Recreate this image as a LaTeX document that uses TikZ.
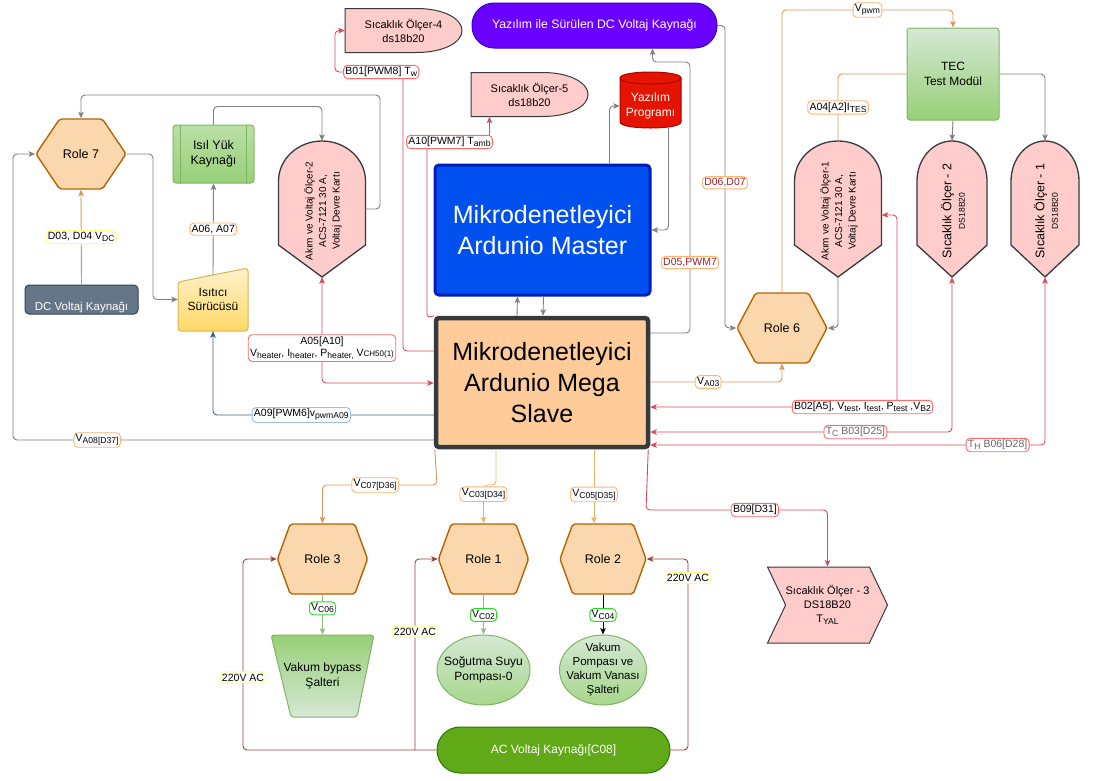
\documentclass[tikz,border=0pt]{standalone}
\usepackage{fontspec}
\setmainfont{Liberation Sans}
\usepackage{tikz}
\usetikzlibrary{arrows.meta, shapes.symbols, shapes.geometric}

\definecolor{relayfill}{HTML}{FAD7AC}
\definecolor{relayline}{HTML}{B46504}
\definecolor{sensfill}{HTML}{FFCCCC}
\definecolor{darkline}{HTML}{36393D}
\definecolor{wiregray}{HTML}{808080}
\definecolor{wirered}{HTML}{D9495A}
\definecolor{wireorange}{HTML}{D9955A}
\definecolor{wireamber}{HTML}{EBB55F}
\definecolor{wirebrown}{HTML}{9B3F3F}
\definecolor{wireblue}{HTML}{3D5F7E}
\definecolor{wiregreen}{HTML}{8CC276}
\definecolor{tagred}{HTML}{FF6B6B}
\definecolor{tagorange}{HTML}{FFB570}
\definecolor{tagyellow}{HTML}{FFFF88}
\definecolor{taggreen}{HTML}{1EE01E}
\definecolor{tagblue}{HTML}{9DBDEB}
\definecolor{tagtext}{HTML}{A0202A}
\definecolor{masterblue}{HTML}{0050EF}
\definecolor{masterline}{HTML}{001DBC}
\definecolor{slavefill}{HTML}{FFCC99}
\definecolor{srcviolet}{HTML}{6A00FF}
\definecolor{srcvioletline}{HTML}{3700CC}
\definecolor{progred}{HTML}{E51400}
\definecolor{progline}{HTML}{B20000}
\definecolor{acgreen}{HTML}{60A917}
\definecolor{acline}{HTML}{2D7600}
\definecolor{dcslate}{HTML}{647687}
\definecolor{dcline}{HTML}{314354}
\definecolor{greenlight}{HTML}{D5E8D4}
\definecolor{greenmid}{HTML}{B9E0A5}
\definecolor{greendark}{HTML}{97D077}
\definecolor{greenline}{HTML}{82B366}
\definecolor{yellowlight}{HTML}{FFF2CC}
\definecolor{yellowdark}{HTML}{FFD966}
\definecolor{yellowline}{HTML}{D6B656}

% lowered index text in the signal tags
\newcommand{\lo}[1]{\raisebox{-0.35ex}{\fontsize{8.6}{10}\selectfont #1}}

\begin{document}
\begin{tikzpicture}[x=1pt, y=-1pt,
    every node/.style={font=\fontsize{12}{14.5}\selectfont},
    >={Stealth[length=6.5pt, width=5.5pt, inset=1.5pt]},
    wire/.style={draw=#1, line width=0.9pt, rounded corners=4pt, ->},
    wire/.default=wiregray,
    tag/.style={draw=#1, fill=white, line width=0.9pt, inner sep=1.8pt,
                font=\fontsize{10.5}{12.5}\selectfont},
    relay/.style={shape=signal, signal to=west and east, signal pointer angle=#1,
                  draw=relayline, fill=relayfill, line width=1.4pt, rounded corners=2pt,
                  minimum width=90, minimum height=70, inner sep=0pt,
                  font=\fontsize{12.5}{15}\selectfont},
    sensor/.style={draw=darkline, fill=sensfill, line width=1.3pt},
    greenbox/.style={draw=greenline, top color=greenlight, bottom color=greendark,
                     line width=1pt, rounded corners=3pt, align=center}]

  \useasboundingbox (0,0) rectangle (1094,780);

  % controllers
  \node[draw=masterline, fill=masterblue, line width=3pt, rounded corners=4pt,
        minimum width=215, minimum height=130, text=white, align=center,
        font=\fontsize{25}{31}\selectfont] (master) at (542.5,230)
       {Mikrodenetleyici\\Ardunio Master};
  \node[draw=darkline, fill=slavefill, line width=4.5pt, rounded corners=3pt,
        minimum width=212, minimum height=129, align=center,
        font=\fontsize{25}{31}\selectfont] (slave) at (542,382.5)
       {Mikrodenetleyici\\Ardunio Mega\\Slave};

  % sources
  \node[draw=srcvioletline, fill=srcviolet, line width=1pt, rounded corners=22pt,
        minimum width=245, minimum height=45, text=white,
        font=\fontsize{12.3}{14}\selectfont] (dcprog) at (594.5,25.5)
       {Yazılım ile Sürülen DC Voltaj Kaynağı};
  \node[draw=acline, fill=acgreen, line width=1pt, rounded corners=23pt,
        minimum width=233, minimum height=46, text=white] (acsrc) at (553.5,750)
       {AC Voltaj Kaynağı[C08]};
  \node[draw=dcline, fill=dcslate, line width=1pt, rounded corners=4pt,
        minimum width=113, minimum height=29, text=white,
        font=\fontsize{11.5}{14}\selectfont] (dcsrc) at (81.5,299.5)
       {\raisebox{-8pt}[\height][\depth]{DC Voltaj Kaynağı}};

  % software cylinder
  \path[draw=progline, fill=progred, line width=1pt]
    (620,78) -- (620,122) .. controls (620,130) and (681,130) .. (681,122)
    -- (681,78) .. controls (681,70) and (620,70) .. (620,78) -- cycle;
  \draw[progline, line width=1pt] (620,78) .. controls (620,86) and (681,86) .. (681,78);
  \node[minimum width=61, minimum height=44, text=white, align=center] (prog) at (650.5,106)
       {Yazılım\\Programı};

  % relays
  \node[relay=112] (role7) at (81,154) {Role 7};
  \node[relay=124] (role6) at (782,328) {Role 6};
  \node[relay=140] (role3) at (322.5,559) {Role 3};
  \node[relay=140] (role1) at (483.5,559) {Role 1};
  \node[relay=140, minimum width=86] (role2) at (603,559) {Role 2};

  % heater side
  \node[greenbox, top color=greenmid, minimum width=81, minimum height=58,
        font=\fontsize{12.5}{15}\selectfont] (heatsrc) at (213.5,154) {Isıl Yük\\Kaynağı};
  \draw[greenline, line width=1pt]
    ([xshift=8pt]heatsrc.north west) -- ([xshift=8pt]heatsrc.south west)
    ([xshift=-8pt]heatsrc.north east) -- ([xshift=-8pt]heatsrc.south east);
  \path[draw=yellowline, top color=yellowlight, bottom color=yellowdark, line width=1pt,
        rounded corners=3pt] (178,282) -- (248,268) -- (248,331) -- (178,331) -- cycle;
  \node[minimum width=70, minimum height=63, align=center] (driver) at (213,299.5)
       {Isıtıcı\\Sürücüsü};

  \node[greenbox, minimum width=92, minimum height=92] (tec) at (953,74) {TEC\\Test Modül};

  % current/voltage and temperature probes
  \foreach \gx/\hw/\gname/\gfont/\gtext in {
      322/43.5/amp2/10/{Akım ve Voltaj Ölçer-2\\ACS-7121 30 A,\\Voltaj Devre Kartı},
      838/43.5/amp1/10/{Akım ve Voltaj Ölçer-1\\ACS-7121 30 A,\\Voltaj Devre Kartı},
      952/35/temp2/12.5/{Sıcaklık Ölçer - 2\\\fontsize{8.5}{10}\selectfont DS18B20},
      1045/34/temp1/12.5/{Sıcaklık Ölçer - 1\\\fontsize{8.5}{10}\selectfont DS18B20}} {
    \begin{scope}[shift={(\gx,0)}]
      \draw[sensor] (-\hw,245) -- (-\hw,181)
        .. controls (-\hw,159) and ({-0.55*\hw},141) .. (0,141)
        .. controls ({0.55*\hw},141) and (\hw,159) .. (\hw,181)
        -- (\hw,245) -- (0,277) -- cycle;
      \node[minimum width=2*\hw, minimum height=136] (\gname) at (0,209) {};
      \node[rotate=90, align=center, font=\fontsize{\gfont}{13.5}\selectfont]
        (\gname-text) at (1,211) {\gtext};
    \end{scope}
  }

  \foreach \sx/\sy/\sname/\snum in {403.5/30.5/temp4/4, 529.5/94.5/temp5/5} {
    \begin{scope}[shift={(\sx,\sy)}]
      \draw[sensor, line width=1pt] (-58.5,22) -- (-58.5,-22) -- (13,-22)
        .. controls (40,-22) and (58.5,-12) .. (58.5,0)
        .. controls (58.5,12) and (40,22) .. (13,22) -- cycle;
      \node[minimum width=117, minimum height=44, align=center,
            font=\fontsize{11}{14}\selectfont] (\sname) at (0,0)
           {Sıcaklık Ölçer-\snum\\ds18b20};
    \end{scope}
  }

  \node[shape=signal, signal from=west, signal to=east, signal pointer angle=129,
        draw=darkline, fill=sensfill, line width=1pt, minimum width=119, minimum height=76,
        inner sep=0pt, align=center, font=\fontsize{11}{14}\selectfont] (temp3) at (827.5,605)
       {Sıcaklık Ölçer - 3\\DS18B20\\T\lo{YAL}};

  % loads
  \path[draw=greenline, top color=greendark, bottom color=greenlight, line width=1pt,
        rounded corners=3pt] (271,635) -- (374,635) -- (357,717) -- (291,717) -- cycle;
  \node[minimum width=103, minimum height=82, align=center] (bypass) at (322.5,676)
       {Vakum bypass\\Şalteri};
  \node[ellipse, draw=greenline, top color=greenlight, bottom color=greendark!85,
        line width=1pt, minimum width=93, minimum height=70] (coolpump) at (483.5,670) {};
  \node[align=center] (coolpump-text) at (coolpump.center) {Soğutma Suyu\\Pompası-0};
  \node[ellipse, draw=greenline, top color=greenlight, bottom color=greendark!85,
        line width=1pt, minimum width=87, minimum height=70] (vacpump) at (603,670) {};
  \node[align=center, font=\fontsize{11.5}{14}\selectfont] (vacpump-text) at (vacpump.center)
       {Vakum\\Pompası ve\\Vakum Vanası\\Şalteri};

  % gray links
  \draw[wire] (amp2.east) -| (380,95) -| (role7.north);
  \draw[wire] (heatsrc.north) -- ++(0,-18) -| (amp2.north);
  \draw[wire] (role7.east) -- (153,154) |- (driver.west);
  \draw[wire] ([yshift=-7pt]driver.north) -- node[tag=tagorange] {A06, A07} (heatsrc.south);
  \draw[wire] (slave.west |- 0,440) -- node[tag=tagorange, pos=0.8] {V\lo{A08[D37]}}
    (13,440) |- (role7.west);
  \draw[wire] ([xshift=67pt]master.north) |- (prog.west);
  \draw[wire] ([xshift=18pt]prog.south) |- (master.east);
  \draw[wire] ([xshift=-25pt]slave.north) -- ([xshift=-25pt]master.south);
  \draw[wire] ([xshift=1pt]master.south) -- ([xshift=1pt]slave.north);
  \draw[wire] (slave.east |- 0,333) -- (690,333)
    -- node[tag=tagorange, text=tagtext, pos=0.26] {D05,PWM7} (690,62)
    -| ([xshift=58pt]dcprog.south);
  \draw[wire] (dcprog.east) -- (725,25.5)
    |- node[tag=tagorange, text=tagtext, pos=0.26] {D06,D07} (role6.west);
  \draw[wire] (tec.south) -- (temp2.north);
  \draw[wire] (tec.east) -| (temp1.north);
  \draw[wire] (amp1.south) |- (role6.east);

  % orange links
  \draw[wire=wireorange] (dcsrc.north) -- node[tag=tagyellow] {D03, D04 V\lo{DC}} (role7.south);
  \draw[wire=wireorange] (role6.north) -- (782,10)
    -| node[tag=tagorange, pos=0.25] {V\lo{pwm}} (tec.north);
  \draw[wire=wireorange, -] (tec.west)
    -| node[tag=tagorange, pos=0.75] {A04[A2]I\lo{TES}} (amp1.north);
  \draw[wire=wireorange] (slave.east |- 0,382)
    -| node[tag=tagorange, pos=0.22] {V\lo{A03}} (role6.south);
  \draw[wire=wireorange] ([xshift=1pt]slave.south west) -- (437,485)
    -| node[tag=tagorange, pos=0.27] {V\lo{C07[D36]}} (role3.north);
  \draw[wire=wireamber] ([xshift=-46pt]slave.south) -- (496,485)
    -| node[tag=tagorange, pos=0.62] {V\lo{C03[D34]}} (role1.north);
  \draw[wire=wireamber] ([xshift=52pt]slave.south)
    -- node[tag=tagorange, pos=0.61] {V\lo{C05[D35]}} (role2.north -| 594,0);

  % heater drive
  \draw[wire=wireblue] (slave.west |- 0,415)
    -| node[tag=tagblue, pos=0.3] {A09[PWM6]v\lo{pwmA09}} (driver.south);

  % red measurement links
  \draw[wire=wirered, <->] (amp2.south)
    -- node[tag=tagred, pos=0.67, align=center]
       {A05[A10]\\V\lo{heater}, I\lo{heater}, P\lo{heater,} V{\fontsize{8}{9}\selectfont CH50(1)}}
    (322,383) -- (slave.west |- 0,383);
  \draw[wire=wirered] (slave.west |- 0,351) -- (403,351) -- (403,72)
    -- node[tag=tagred, pos=0.32] {B01[PWM8] T\lo{w}} (335,72) |- (temp4.west);
  \draw[wire=wirered] (slave.north west) -- (427,318) -- (427,142)
    -| node[tag=tagred, pos=0.18] {A10[PWM7] T\lo{amb}} ([xshift=-40pt]temp5.south);
  \draw[wire=wirered, <->] ([yshift=-6pt]amp1.east) -- (897,215) -- (897,407)
    -- node[tag=tagred, pos=0.14]
       {B02[A5], V\lo{test}, I\lo{test}, P\lo{test} ,V\lo{B2}}
    (slave.east |- 0,407);
  \draw[wire=wirered, <->] (temp2.south)
    |- node[tag=tagred, text=black!60, pos=0.66] {T\lo{C} B03[D25]} (slave.east |- 0,432);
  \draw[wire=wirered, <->] (temp1.south)
    |- node[tag=tagred, text=black!60, pos=0.56] {T\lo{H} B06[D28]} (slave.east |- 0,445);
  \draw[wire=wirered] ([xshift=-2pt]slave.south east) -- (646,510)
    -| node[tag=tagred, pos=0.3] {B09[D31]} (temp3.north);

  % relay outputs
  \draw[wire=wiregreen] (role3.south) -- node[tag=taggreen, pos=0.34] {V\lo{C06}} (bypass.north);
  \draw[wire=wiregreen] (role1.south) -- node[tag=taggreen, pos=0.51] {V\lo{C02}} (coolpump.north);
  \draw[wire=black] (role2.south) -- node[tag=taggreen, pos=0.51] {V\lo{C04}} (vacpump.north);

  % mains supply
  \draw[wire=wirebrown] (acsrc.west) -- (243,750)
    |- node[tag=tagyellow, pos=0.19] {220V AC} (role3.west);
  \draw[wire=wirebrown] (acsrc.west -| 415,0)
    |- node[tag=tagyellow, pos=0.31] {220V AC} (role1.west);
  \draw[wire=wirebrown] (acsrc.east) -- (688,750)
    |- node[tag=tagyellow, pos=0.45] {220V AC} (role2.east);

\end{tikzpicture}
\end{document}
